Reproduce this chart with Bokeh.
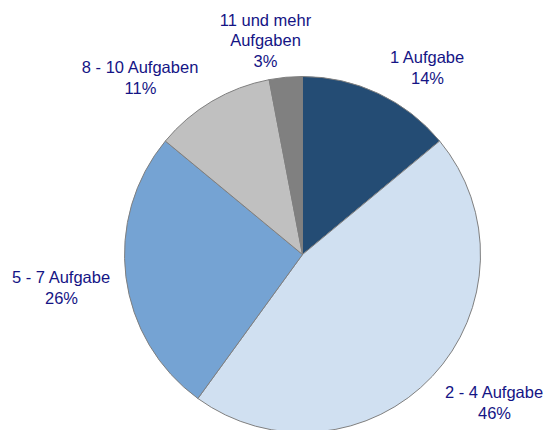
import numpy as np
from bokeh.plotting import figure
from bokeh.models import ColumnDataSource, Range1d
from bokeh.core.properties import value
from bokeh.embed import file_html
from bokeh.resources import INLINE

categories = ["1 Aufgabe", "2 - 4 Aufgabe", "5 - 7 Aufgabe", "8 - 10 Aufgaben", "11 und mehr\nAufgaben"]
shares = [14, 46, 26, 11, 3]
colors = ["#244C74", "#D0E0F1", "#75A3D3", "#C0C0C0", "#808080"]

# label anchor positions (layout, in pixels from the plot's top-left)
label_px = [(427, 67), (494, 402), (61, 287), (140, 77), (265, 40)]

W, H = 545, 430
CX, CY, R = 302, 254, 178

p = figure(width=W, height=H, output_backend="svg", toolbar_location=None,
           x_range=Range1d(0, W), y_range=Range1d(0, H), min_border=0)
p.axis.visible = False
p.grid.visible = False
p.outline_line_color = None
p.background_fill_color = "white"

frac = np.array(shares, dtype=float) / sum(shares)
cum = np.concatenate([[0], np.cumsum(frac)])
start = np.pi / 2 - 2 * np.pi * cum[:-1]
end = np.pi / 2 - 2 * np.pi * cum[1:]

src = ColumnDataSource(dict(start=start, end=end, color=colors))
p.wedge(x=CX, y=H - CY, radius=R, start_angle="start", end_angle="end",
        direction="clock", fill_color="color", line_color="#7F7F7F", line_width=1,
        source=src)

labels = [f"{c}\n{s}%" for c, s in zip(categories, shares)]
lsrc = ColumnDataSource(dict(x=[lx for lx, ly in label_px], y=[H - ly for lx, ly in label_px], t=labels))
p.text(x="x", y="y", text="t", source=lsrc, text_align="center", text_baseline="middle",
       text_font=value("Liberation Sans"), text_font_size="16.5px", text_color="#141485",
       text_line_height=1.15)

open("out.html", "w").write(file_html(p, INLINE))
